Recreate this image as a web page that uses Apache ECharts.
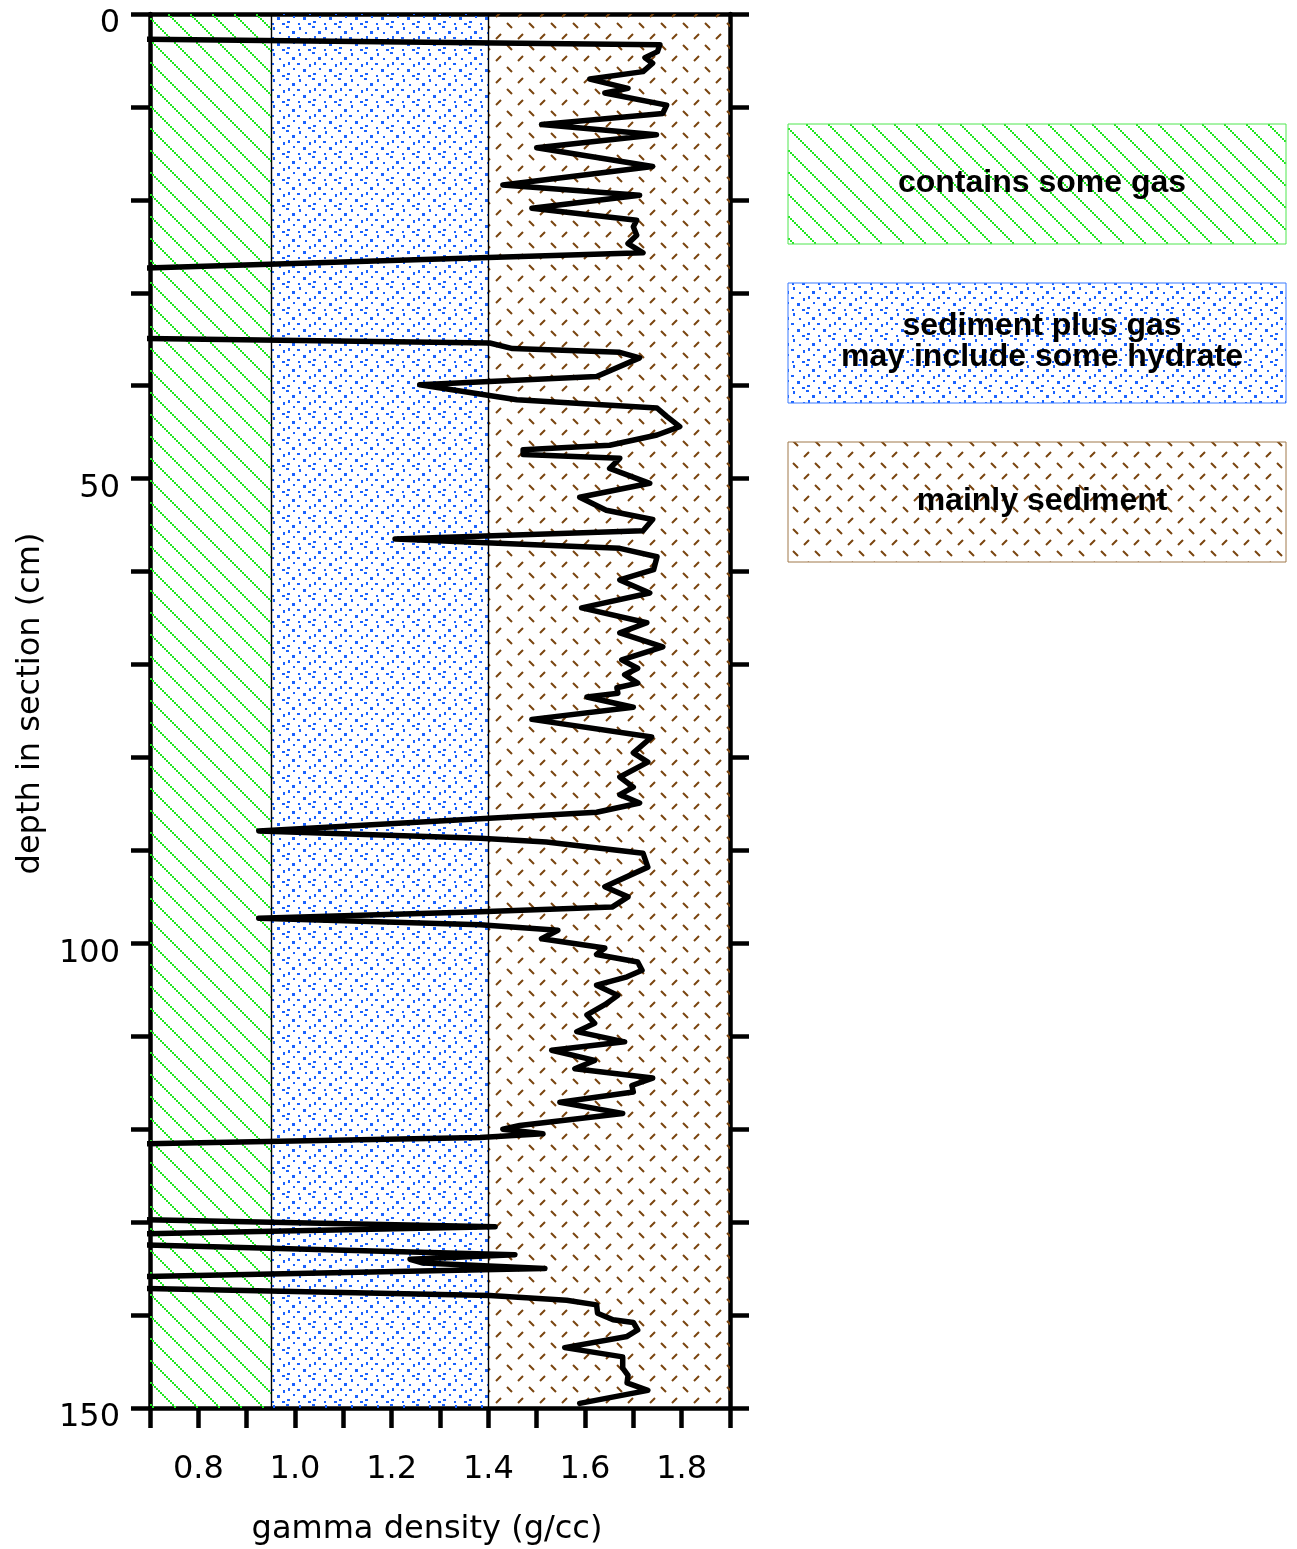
<!DOCTYPE html>
<html>
<head>
<meta charset="utf-8">
<title>Gamma density log</title>
<script src="https://cdn.jsdelivr.net/npm/echarts@6/dist/echarts.min.js"></script>
<style>
  html, body { margin: 0; padding: 0; background: #fff; }
  #chart { width: 1297px; height: 1549px; }
</style>
</head>
<body>
<div id="chart"></div>
<script>
// Depth below top of section (cm), down the core
const depthCm = [
  2.7, 3.3, 4.05, 4.7, 5.3, 6.2, 7.0, 8.0, 8.5, 9.8, 10.7, 11.9, 13.0, 14.4, 16.4, 18.4, 19.5, 20.9, 22.2, 22.9, 23.8, 24.7, 25.7, 27.4,
  34.9, 35.4, 36.0, 36.4, 37.0, 39.0, 39.9, 41.5, 42.4, 43.3, 44.4, 45.3, 46.4, 46.9, 47.4, 47.8, 48.9, 50.5, 52.0, 53.4, 54.4, 55.6,
  56.5, 57.5, 58.4, 59.8, 60.9, 62.3, 63.9, 65.5, 66.6, 68.1, 69.5, 70.4, 71.1, 72.0, 72.5, 73.1, 73.5, 74.6, 75.9, 77.8, 79.5, 80.5,
  82.1, 83.2, 84.0, 84.9, 85.9, 86.6, 87.9, 88.7, 89.1, 90.3, 91.8, 93.9, 95.0, 96.1, 96.6, 97.3, 98.0, 98.6, 99.5, 100.5, 101.2,
  102.0, 102.9, 103.6, 104.5, 105.6, 106.6, 107.7, 108.6, 109.5, 110.6, 111.5, 112.6, 113.5, 114.5, 115.3, 116.0, 117.1, 118.3,
  119.6, 120.0, 120.5, 120.9, 121.6,
  129.7, 130.5, 131.3, 132.4, 133.5, 134.0, 134.4, 135.0, 135.9, 137.1, 137.9, 138.4, 138.9, 139.8, 140.5, 140.8, 141.6, 142.3,
  143.5, 144.5, 145.7, 146.5, 147.3, 148.1, 149.5
];

// Gamma ray attenuation density (g/cc) at each depth; gas voids read below 0.7
const densityGcc = [
  0.65, 1.755, 1.75, 1.724, 1.74, 1.72, 1.61, 1.689, 1.641, 1.769, 1.761, 1.51, 1.748, 1.50, 1.74, 1.43, 1.713, 1.49, 1.707, 1.70, 1.707, 1.689, 1.72, 0.65,
  0.65, 1.403, 1.45, 1.672, 1.713, 1.624, 1.258, 1.459, 1.749, 1.769, 1.796, 1.749, 1.651, 1.472, 1.472, 1.672, 1.651, 1.734, 1.589, 1.644, 1.74, 1.72,
  1.207, 1.672, 1.749, 1.742, 1.672, 1.734, 1.593, 1.728, 1.672, 1.761, 1.676, 1.709, 1.682, 1.709, 1.666, 1.668, 1.604, 1.70, 1.49, 1.738, 1.70, 1.73,
  1.672, 1.70, 1.672, 1.713, 1.624, 1.383, 0.925, 1.383, 1.52, 1.72, 1.73, 1.641, 1.689, 1.656, 1.383, 0.925, 1.383, 1.544, 1.51, 1.641, 1.624,
  1.709, 1.718, 1.687, 1.624, 1.668, 1.641, 1.604, 1.62, 1.583, 1.682, 1.531, 1.62, 1.579, 1.74, 1.697, 1.70, 1.548, 1.678,
  1.465, 1.43, 1.513, 1.383, 0.65,
  0.65, 1.414, 0.65, 0.65, 1.455, 1.238, 1.265, 1.517, 0.65, 0.65, 1.403, 1.562, 1.624, 1.626, 1.658, 1.70, 1.709, 1.687,
  1.558, 1.678, 1.678, 1.689, 1.687, 1.73, 1.589
];

// Interpretation zones along the density axis
const zoneEdges = [0.7, 0.95, 1.4, 1.9];
const zoneLabels = ['contains some gas', 'sediment plus gas\nmay include some hydrate', 'mainly sediment'];

// Axis ranges and labelled ticks
const densityRange = [0.7, 1.9];
const depthRange = [0, 150];
const xTickLabels = ['0.8', '1.0', '1.2', '1.4', '1.6', '1.8'];
const yTickLabels = ['0', '50', '100', '150'];

// ---- fill patterns -------------------------------------------------------
function makeTile(w, h, draw) {
  const c = document.createElement('canvas');
  c.width = w; c.height = h;
  draw(c.getContext('2d'));
  return c;
}
// diagonal hatching for the gas zone
const gasTile = makeTile(22, 22, g => {
  g.fillStyle = '#22e622';
  for (let i = 0; i < 22; i += 2) g.fillRect(i, i, 2, 2);
});
// blue stipple for the mixed zone (hand-placed dots so it reads as a scatter)
const stippleDots = [
  [0, 0, 3, 2], [13, 1, 2, 3], [6, 5, 3, 3], [19, 6, 2, 2], [2, 10, 2, 3],
  [11, 11, 3, 2], [23, 12, 2, 3], [7, 16, 2, 2], [17, 17, 3, 3], [1, 21, 3, 2],
  [12, 23, 2, 2], [22, 23, 3, 2]
];
const mixTile = makeTile(26, 26, g => {
  g.fillStyle = '#1a62ff';
  stippleDots.forEach(([x, y, w, h]) => g.fillRect(x, y, w, h));
});
// short brown ticks for sediment
const sedTile = makeTile(22, 22, g => {
  g.strokeStyle = '#7a4510';
  g.lineWidth = 2;
  g.lineCap = 'butt';
  g.beginPath();
  g.moveTo(1, 1); g.lineTo(6, 6);
  g.moveTo(17, 12); g.lineTo(12, 17);
  g.stroke();
});
const zoneFills = [gasTile, mixTile, sedTile].map(t => ({ image: t, repeat: 'repeat' }));
const zoneBorders = ['#4ee64e', '#3b7bff', '#a0784a'];

// ---- chart ---------------------------------------------------------------
const regularFont = 'DejaVu Sans';
const axisText = { fontFamily: regularFont, fontSize: 32, color: '#000' };
const frameLine = { color: '#000', width: 4.5 };

const logPoints = depthCm.map((d, i) => [densityGcc[i], d]);

const zoneAreas = zoneEdges.slice(0, -1).map((lo, i) => [
  { xAxis: lo, itemStyle: { color: zoneFills[i], opacity: 1, borderWidth: 0 } },
  { xAxis: zoneEdges[i + 1] }
]);
const zoneDividers = zoneEdges.slice(1, -1).map(v => ({ xAxis: v }));

const legendBoxes = zoneLabels.map((label, i) => ({
  type: 'group',
  children: [
    {
      type: 'rect',
      shape: { x: 788, y: 124 + i * 159, width: 498, height: 120 },
      style: { fill: zoneFills[i], stroke: zoneBorders[i], lineWidth: 1 }
    },
    {
      type: 'text',
      x: 1042, y: 183 + i * 159,
      style: {
        text: label,
        fontFamily: 'Liberation Sans', fontWeight: 'bold', fontSize: 32,
        lineHeight: 31,
        fill: '#000', align: 'center', verticalAlign: 'middle'
      }
    }
  ]
}));

const chart = echarts.init(document.getElementById('chart'), null, { renderer: 'canvas' });
chart.setOption({
  animation: false,
  backgroundColor: '#fff',
  grid: { left: 150, top: 14, width: 580, height: 1394, containLabel: false, outerBoundsMode: 'none' },
  xAxis: [
    {
      type: 'value', position: 'bottom',
      min: densityRange[0], max: densityRange[1], interval: 0.1,
      axisLine: { show: true, onZero: false, lineStyle: frameLine },
      axisTick: { show: true, inside: false, length: 20, lineStyle: { color: '#000', width: 4.5 } },
      axisLabel: {
        ...axisText, margin: 46,
        formatter: v => { const s = v.toFixed(1); return xTickLabels.includes(s) ? s : ''; }
      },
      splitLine: { show: false },
      name: 'gamma density (g/cc)', nameLocation: 'middle', nameGap: 106,
      nameTextStyle: { ...axisText, padding: [0, 26, 0, 0] }
    },
    {
      type: 'value', position: 'top',
      min: densityRange[0], max: densityRange[1],
      axisLine: { show: true, onZero: false, lineStyle: frameLine },
      axisTick: { show: false }, axisLabel: { show: false }, splitLine: { show: false }
    }
  ],
  yAxis: [
    {
      type: 'value', position: 'left', inverse: true,
      min: depthRange[0], max: depthRange[1], interval: 10,
      axisLine: { show: true, onZero: false, lineStyle: frameLine },
      axisTick: { show: true, inside: false, length: 19, lineStyle: { color: '#000', width: 4.5 } },
      axisLabel: {
        ...axisText, margin: 30, verticalAlign: 'top', lineHeight: 20,
        formatter: v => { const s = String(Math.round(v)); return yTickLabels.includes(s) ? s : ''; }
      },
      splitLine: { show: false },
      name: 'depth in section (cm)', nameLocation: 'middle', nameGap: 103, nameRotate: 90,
      nameTextStyle: { ...axisText, padding: [0, 0, 0, 15] }
    },
    {
      type: 'value', position: 'right', inverse: true,
      min: depthRange[0], max: depthRange[1], interval: 10,
      axisLine: { show: true, onZero: false, lineStyle: frameLine },
      axisTick: { show: true, inside: false, length: 19, lineStyle: { color: '#000', width: 4.5 } },
      axisLabel: { show: false }, splitLine: { show: false }
    }
  ],
  series: [
    {
      name: 'zones', type: 'line', data: [], z: 1, silent: true,
      xAxisIndex: 0, yAxisIndex: 0,
      markArea: { silent: true, data: zoneAreas, label: { show: false } },
      markLine: {
        silent: true, symbol: ['none', 'none'], label: { show: false },
        lineStyle: { color: '#000', width: 1.4, type: 'solid' },
        emphasis: { disabled: true },
        data: zoneDividers
      }
    },
    {
      name: 'gamma density', type: 'line', z: 5,
      xAxisIndex: 0, yAxisIndex: 0,
      data: logPoints, clip: true,
      showSymbol: false, symbol: 'none',
      lineStyle: { color: '#000', width: 5.5, join: 'round', cap: 'round' }
    }
  ],
  graphic: legendBoxes
});
</script>
</body>
</html>
